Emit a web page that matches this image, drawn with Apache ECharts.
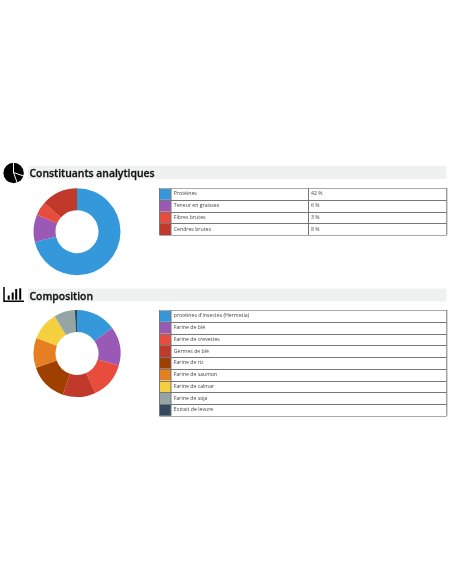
<!DOCTYPE html>
<html><head><meta charset="utf-8">
<style>html,body{margin:0;padding:0;background:#fff}#c{width:452px;height:584px}</style>
<script src="https://cdn.jsdelivr.net/npm/echarts@6/dist/echarts.min.js"></script></head>
<body><div id="c"></div>
<script>
const constituentNames = ['Protéines','Teneur en graisses','Fibres brutes','Cendres brutes'];
const constituentValues = [42,6,3,8];
const constituentColors = ['#3498db','#9b59b6','#e74c3c','#c0392b'];
const compositionNames = ["protéines d'insectes (Hermetia)",'Farine de blé','Farine de crevettes','Germes de blé','Farine de riz','Farine de saumon','Farine de calmar','Farine de soja','Extrait de levure'];
const compositionValues = [15,14.4,13.6,12.2,14.4,11.1,10.6,7.8,0.8];
const compositionColors = ['#3498db','#9b59b6','#e74c3c','#c0392b','#a04000','#e67e22','#f4d03f','#95a5a6','#34495e'];
const FONT = '"Open Sans"';
const g = [];
function heading(text, y, baseline){
  g.push({type:'rect',silent:true,shape:{x:28,y:y,width:418.5,height:13},style:{fill:'#eff1f1'}});
  g.push({type:'text',silent:true,style:{x:29.5,y:baseline,text:text,fontFamily:'Open Sans',fontWeight:600,fontSize:10.4,fill:'#111',stroke:'#111',lineWidth:0.3,verticalAlign:'bottom',textVerticalAlign:'bottom'}});
}
function table(top,rowH,names,colors,vals){
  const L=159.5,C=171,D=308.5,R=446.8,n=names.length,line={stroke:'#777',lineWidth:1};
  names.forEach((nm,i)=>{
    const y=top+i*rowH;
    g.push({type:'rect',silent:true,shape:{x:L,y:y,width:C-L,height:rowH},style:{fill:colors[i]}});
    g.push({type:'text',silent:true,style:{x:C+2.8,y:y+rowH/2,text:nm,font:'5.2px '+FONT,fill:'#444',textVerticalAlign:'middle'}});
    if(vals) g.push({type:'text',silent:true,style:{x:D+2.5,y:y+rowH/2,text:vals[i]+' %',font:'5.2px '+FONT,fill:'#444',textVerticalAlign:'middle'}});
  });
  for(let i=0;i<=n;i++){const y=Math.round(top+i*rowH)+.5;g.push({type:'line',silent:true,shape:{x1:L,y1:y,x2:R,y2:y},style:{stroke:(i===0||i===n)?'#aaa':'#777',lineWidth:1}});}
  [L,C,R].concat(vals?[D]:[]).forEach(x=>g.push({type:'line',silent:true,shape:{x1:x,y1:top,x2:x,y2:top+n*rowH},style:line}));
}
heading('Constituants analytiques',166,179.2);
heading('Composition',288.5,302);
// pie-chart icon: black disc cut by thin white lines
g.push({type:'circle',silent:true,shape:{cx:13.6,cy:173,r:10.2},style:{fill:'#000'}});
[[13.5,162],[25,176.5],[18,185]].forEach(p=>g.push({type:'line',silent:true,shape:{x1:13.5,y1:172.5,x2:p[0],y2:p[1]},style:{stroke:'#fff',lineWidth:1}}));
// bar-chart icon
g.push({type:'polyline',silent:true,shape:{points:[[4,287],[4,301.2],[24,301.2]]},style:{stroke:'#000',fill:null,lineWidth:1.5}});
[[7.7,295.5],[11.7,292.5],[15.2,289],[19.2,288.3]].forEach(b=>g.push({type:'rect',silent:true,shape:{x:b[0],y:b[1],width:2,height:299.7-b[1]},style:{fill:'#000'}}));
table(188,11.75,constituentNames,constituentColors,constituentValues);
table(310,11.75,compositionNames,compositionColors,null);
function pie(names,values,colors,cy){return {type:'pie',silent:true,center:[77,cy],radius:[21.5,43.5],startAngle:90,label:{show:false},labelLine:{show:false},animation:false,
  data:names.map((n,i)=>({name:n,value:values[i],itemStyle:{color:colors[i]}}))};}
const chart=echarts.init(document.getElementById('c'),null,{renderer:'canvas'});
chart.setOption({animation:false,series:[pie(constituentNames,constituentValues,constituentColors,231.7),pie(compositionNames,compositionValues,compositionColors,353.5)],graphic:{elements:g}});
</script></body></html>
